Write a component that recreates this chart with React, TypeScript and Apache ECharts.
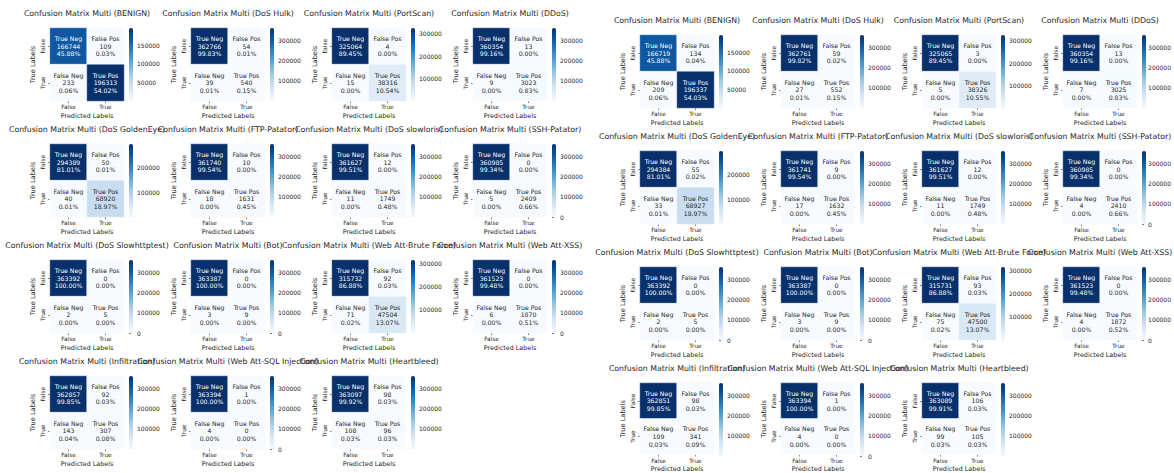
import React, { useEffect, useRef } from "react";
import * as echarts from "echarts";

// Attack classes, one binary confusion matrix each (one-vs-rest)
const classNames = [
  "BENIGN", "DoS Hulk", "PortScan", "DDoS",
  "DoS GoldenEye", "FTP-Patator", "DoS slowloris", "SSH-Patator",
  "DoS Slowhttptest", "Bot", "Web Att-Brute Force", "Web Att-XSS",
  "Infiltration", "Web Att-SQL Injection", "Heartbleed",
];

// Run A (left block)
const runATrueNeg = [166744, 362766, 325064, 360354, 294389, 361740, 361627, 360985, 363392, 363387, 315732, 361523, 362857, 363394, 363097];
const runAFalsePos = [109, 54, 4, 13, 50, 10, 12, 0, 0, 0, 92, 0, 92, 1, 98];
const runAFalseNeg = [233, 39, 15, 9, 40, 18, 11, 5, 2, 3, 71, 6, 143, 4, 108];
const runATruePos = [196313, 540, 38316, 3023, 68920, 1631, 1749, 2409, 5, 9, 47504, 1870, 307, 0, 96];

// Run B (right block)
const runBTrueNeg = [166719, 362761, 325065, 360354, 294384, 361741, 361627, 360985, 363392, 363387, 315731, 361523, 362851, 363394, 363089];
const runBFalsePos = [134, 59, 3, 13, 55, 9, 12, 0, 0, 0, 93, 0, 98, 1, 106];
const runBFalseNeg = [209, 27, 5, 7, 33, 17, 11, 4, 2, 3, 75, 4, 109, 4, 99];
const runBTruePos = [196337, 552, 38326, 3025, 68927, 1632, 1749, 2410, 5, 9, 47500, 1872, 341, 0, 105];

const axisCategories = ["False", "True"];
const cellNames = ["True Neg", "False Pos", "False Neg", "True Pos"];

// matplotlib "Blues"
const BLUES = ["#f7fbff", "#deebf7", "#c6dbef", "#9ecae1", "#6baed6", "#4292c6", "#2171b5", "#08519c", "#08306b"];

const FONT = "DejaVu Sans";
const INK = "#262626";

const runs = [
  { tn: runATrueNeg, fp: runAFalsePos, fn: runAFalseNeg, tp: runATruePos, ox: 50, oy: 28 },
  { tn: runBTrueNeg, fp: runBFalsePos, fn: runBFalseNeg, tp: runBTruePos, ox: 640, oy: 35 },
];

const COL_PITCH = 141;
const ROW_PITCH = 116;
const MAT_W = 74;
const MAT_H = 73;
const CB_GAP = 5;
const CB_W = 4;

function colorbarTicks(min: number, max: number): number[] {
  const step = max < 250000 ? 50000 : 100000;
  const out: number[] = [];
  for (let v = 0; v <= max; v += step) if (v >= min) out.push(v);
  return out;
}

function buildOption() {
  const grid: any[] = [];
  const xAxis: any[] = [];
  const yAxis: any[] = [];
  const series: any[] = [];
  const visualMap: any[] = [];
  const graphic: any[] = [];

  runs.forEach((run) => {
    classNames.forEach((name, k) => {
      const col = k % 4;
      const row = Math.floor(k / 4);
      const x = run.ox + col * COL_PITCH;
      const y = run.oy + row * ROW_PITCH;
      const counts = [run.tn[k], run.fp[k], run.fn[k], run.tp[k]];
      const total = counts.reduce((a, b) => a + b, 0);
      const vmin = Math.min(...counts);
      const vmax = Math.max(...counts);

      // heatmap grid
      const gi = grid.length;
      grid.push({ left: x, top: y, width: MAT_W, height: MAT_H });
      xAxis.push({
        type: "category", gridIndex: gi, data: axisCategories, position: "bottom",
        axisLine: { show: false },
        axisTick: { show: true, alignWithLabel: true, length: 2, lineStyle: { color: INK, width: 0.6 } },
        axisLabel: { fontSize: 5.8, color: INK, margin: 3, fontFamily: FONT },
        splitLine: { show: false }, splitArea: { show: false },
        name: "Predicted Labels", nameLocation: "middle", nameGap: 11.5,
        nameTextStyle: { fontSize: 6.4, color: INK, fontFamily: FONT },
      });
      yAxis.push({
        type: "category", gridIndex: gi, data: axisCategories, inverse: true,
        axisLine: { show: false },
        axisTick: { show: true, alignWithLabel: true, length: 2, lineStyle: { color: INK, width: 0.6 } },
        axisLabel: { fontSize: 5.8, color: INK, margin: 4, rotate: 90, fontFamily: FONT },
        splitLine: { show: false }, splitArea: { show: false },
        name: "True Labels", nameLocation: "middle", nameGap: 14, nameRotate: 90,
        nameTextStyle: { fontSize: 6.6, color: INK, fontFamily: FONT },
      });

      const si = series.length;
      series.push({
        type: "heatmap", xAxisIndex: gi, yAxisIndex: gi,
        itemStyle: { borderColor: "#ffffff", borderWidth: 0.4 },
        data: counts.map((v, c) => {
          const dark = (v - vmin) / (vmax - vmin || 1) > 0.5;
          return {
            value: [c % 2, Math.floor(c / 2), v],
            label: {
              show: true,
              color: dark ? "#ffffff" : INK,
              fontSize: 6.2, lineHeight: 7.7, fontFamily: FONT,
              formatter: `${cellNames[c]}\n${v}\n${((v / total) * 100).toFixed(2)}%`,
            },
          };
        }),
        emphasis: { disabled: true },
      });

      visualMap.push({
        type: "continuous", seriesIndex: si, dimension: 2, min: vmin, max: vmax,
        inRange: { color: BLUES }, orient: "vertical",
        left: x + MAT_W + CB_GAP, top: y, itemWidth: CB_W, itemHeight: MAT_H,
        calculable: false, padding: 0, text: null, hoverLink: false,
      });

      // colorbar tick axis
      const ci = grid.length;
      grid.push({ left: x + MAT_W + CB_GAP, top: y, width: CB_W, height: MAT_H });
      xAxis.push({ type: "value", gridIndex: ci, show: false });
      const ticks = colorbarTicks(vmin, vmax);
      yAxis.push({
        type: "value", gridIndex: ci, position: "right", min: vmin, max: vmax,
        axisLine: { show: false },
        axisTick: { show: true, length: 2, customValues: ticks, lineStyle: { color: INK, width: 0.6 } },
        axisLabel: {
          customValues: ticks, fontSize: 6, color: INK, margin: 4, fontFamily: FONT,
          formatter: (v: number) => String(v),
        },
        splitLine: { show: false },
      });

      graphic.push({
        type: "text", x: x + MAT_W / 2, y: y - 15,
        style: {
          text: `Confusion Matrix Multi (${name})`,
          fill: INK, font: `7.8px "${FONT}"`, align: "center", verticalAlign: "middle",
        },
      });
    });
  });

  return {
    animation: false,
    backgroundColor: "#ffffff",
    textStyle: { fontFamily: FONT },
    grid, xAxis, yAxis, series, visualMap, graphic,
  };
}

export default function App() {
  const ref = useRef<HTMLDivElement>(null);
  useEffect(() => {
    const chart = echarts.init(ref.current!, null, { renderer: "svg" });
    chart.setOption(buildOption() as any);
    return () => chart.dispose();
  }, []);
  return (
    <div
      ref={ref}
      style={{ position: "fixed", left: 0, top: 0, width: 1174, height: 473, background: "#ffffff" }}
    />
  );
}
